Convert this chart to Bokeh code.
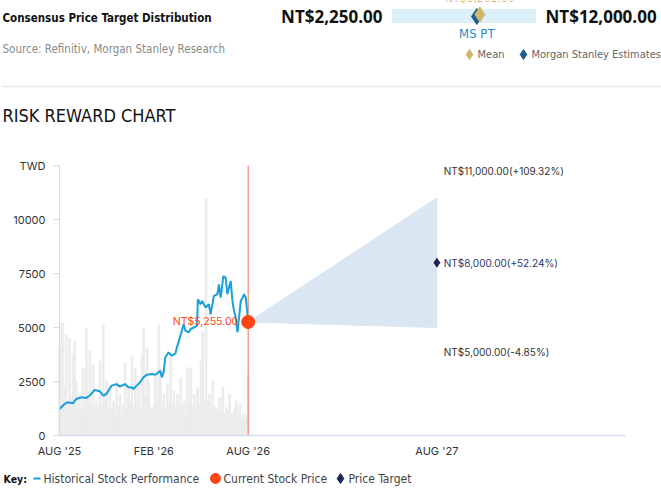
import numpy as np
from bokeh.plotting import figure
from bokeh.models import Range1d, FixedTicker, Label, LinearAxis
from bokeh.embed import file_html
from bokeh.resources import INLINE

# ---------------- data ----------------
price_months = [0.00, 0.32, 0.53, 0.85, 1.07, 1.39, 1.71, 1.92, 2.24, 2.56, 2.78, 2.99,
                3.31, 3.63, 3.84, 4.16, 4.38, 4.59, 4.70, 4.91, 5.12, 5.34, 5.55, 5.87,
                6.09, 6.30, 6.41, 6.51, 6.62, 6.73, 6.94, 7.15, 7.37, 7.47, 7.69, 7.90,
                8.01, 8.22, 8.33, 8.54, 8.75, 8.80, 8.97, 9.08, 9.29, 9.50, 9.61, 9.82,
                10.04, 10.14, 10.25, 10.42, 10.57, 10.68, 10.89, 11.00, 11.10, 11.21,
                11.32, 11.42, 11.53, 11.64, 11.74, 11.85, 12.00]
price_values = [1230, 1460, 1540, 1490, 1690, 1770, 1740, 1850, 2110, 2050, 1850, 1920,
                2310, 2380, 2260, 2380, 2230, 2230, 2150, 2310, 2460, 2690, 2810, 2850,
                2810, 2920, 3000, 2690, 2920, 3620, 3850, 3690, 3800, 4080, 4620, 5150,
                4850, 4770, 4920, 5000, 5080, 6310, 6080, 6230, 5920, 6080, 5610, 6460,
                6540, 7000, 6380, 7380, 7300, 6540, 7150, 6230, 5770, 5460,
                4770, 5460, 6230, 6380, 6540, 6380, 5255]
volume_values = [4100, 5200, 5200, 2200, 4660, 1500, 4510, 1800, 3750, 4360, 2520, 1300,
                 1910, 1200, 3130, 1500, 4970, 1800, 3980, 1400, 3290, 1200, 1600, 1100,
                 3440, 1500, 5120, 2000, 2520, 1300, 2220, 1200, 1600, 1000, 2520, 1300,
                 1910, 900, 1400, 3360, 1200, 2220, 1500, 3670, 1300, 3130, 1400, 2520,
                 1200, 3750, 4970, 1800, 4050, 2520, 1300, 1150, 1400, 2830, 1500, 5120,
                 3130, 1400, 1910, 1200, 2370, 1500, 3750, 1400, 2060, 1200, 1910, 1300,
                 2680, 1400, 1600, 1100, 3130, 1500, 3130, 1300, 1910, 1200, 2220, 1500,
                 3440, 4820, 1600, 11000, 1500, 1910, 1200, 2520, 1300, 1300, 1100, 1760,
                 1200, 2220, 1000, 1300, 1100, 1910, 1000, 990, 1200, 1600, 900, 1450,
                 800, 990, 700, 990, 2830]
history_months = 12
current_price = 5255
target_month = 24
target_high = 11000
target_base = 8000
target_low = 5000
consensus_low = 2250
consensus_high = 12000
consensus_mean = 8201
ms_pt = 8000
x_axis_end = 36
x_tick_months = [0, 6, 12, 24]
x_tick_labels = ["AUG '25", "FEB '26", "AUG '26", "AUG '27"]
y_ticks = [0, 2500, 5000, 7500, 10000, 12500]
y_tick_labels = ["0", "2500", "5000", "7500", "10000", "TWD"]

# ---------------- styling ----------------
NARROW = "DejaVu Sans Condensed"
SANS = "Inter"
BLUE = "#1A9FDB"
ORANGE = "#FF4514"
NAVY = "#1E2358"
GOLD = "#D1B56B"
MSBLUE = "#1B5D8F"
W, H = 661, 488
FR_L, FR_R, FR_T, FR_B = 59, 625, 165, 435   # pixel box of the chart area

sx = (FR_R - FR_L) / x_axis_end
sy = (FR_B - FR_T) / y_ticks[-1]
p = figure(width=W, height=H,
           x_range=Range1d(-FR_L / sx, x_axis_end + (W - FR_R) / sx),
           y_range=Range1d(-(H - FR_B) / sy, y_ticks[-1] + FR_T / sy),
           x_axis_type=None, y_axis_type=None, min_border=0,
           toolbar_location=None, tools="", output_backend="svg")
p.grid.visible = False
p.outline_line_color = None

bar_left_px, bar_right_px = 392, 535
pscale = (consensus_high - consensus_low) / (bar_right_px - bar_left_px)
p.extra_x_ranges = {"px": Range1d(0, W),
                    "price": Range1d(consensus_low - bar_left_px * pscale,
                                     consensus_high + (W - bar_right_px) * pscale)}
p.extra_y_ranges = {"px": Range1d(H, 0)}


def money(v):
    return "NT$" + format(v, ",.2f")


def pct(v):
    return format((v / current_price - 1) * 100, "+.2f") + "%"


def plabel(x, y, text, size, color, font=NARROW, align="left", style="normal", xr="px"):
    p.add_layout(Label(x=x, y=y, text=text, x_range_name=xr, y_range_name="px",
                       text_align=align, text_baseline="middle", text_font=font,
                       text_font_size=size, text_font_style=style, text_color=color))


# ---------------- header ----------------
p.hbar(y=[15.5], left=[consensus_low], right=[consensus_high], height=13,
       color="#DDEFF8", x_range_name="price", y_range_name="px")
p.scatter(x=[ms_pt], y=[16], marker="diamond", size=16, color=MSBLUE,
          x_range_name="price", y_range_name="px")
p.scatter(x=[consensus_mean], y=[14], marker="diamond", size=15, color=GOLD,
          x_range_name="price", y_range_name="px")
plabel(consensus_mean, -3, money(consensus_mean), "12px", GOLD, align="center", xr="price")
plabel(ms_pt, 33, "MS PT", "13px", "#2A8AC2", align="center", xr="price")
plabel(382, 16, money(consensus_low), "17px", "#111111", font="Open Sans", align="right",
       style="bold")
plabel(545, 16, money(consensus_high), "17px", "#111111", font="Open Sans", style="bold")
plabel(2, 17, "Consensus Price Target Distribution", "11.5px", "#111111", style="bold")
plabel(2, 48, "Source: Refinitiv, Morgan Stanley Research", "11.5px", "#8A8A8A")
p.scatter(x=[469], y=[54], marker="diamond", size=10, color=GOLD,
          x_range_name="px", y_range_name="px")
plabel(477, 54, "Mean", "11px", "#666666")
p.scatter(x=[523], y=[54], marker="diamond", size=10, color=MSBLUE,
          x_range_name="px", y_range_name="px")
plabel(531, 54, "Morgan Stanley Estimates", "11px", "#666666")
p.segment(x0=[2], x1=[W], y0=[86], y1=[86], line_color="#E6E6E6", line_width=1.5,
          x_range_name="px", y_range_name="px")
plabel(2, 115, "RISK REWARD CHART", "18px", "#111111")

# ---------------- main chart ----------------
vol_x = np.linspace(0, history_months, len(volume_values))
p.vbar(x=vol_x, top=volume_values, width=history_months / (len(volume_values) - 1),
       color="#ECECEC")
p.patch([history_months, target_month, target_month], [current_price, target_high, target_low],
        color="#DAE7F3")
p.line(price_months, price_values, color=BLUE, line_width=2)
p.segment(x0=[history_months], x1=[history_months], y0=[0], y1=[y_ticks[-1]],
          line_color="#F0704F", line_width=1)
p.scatter([history_months], [current_price], size=13, color=ORANGE)
p.scatter([target_month], [target_base], marker="diamond", size=12, color=NAVY,
          line_color="white", line_width=1)

p.add_layout(Label(x=history_months, y=current_price, x_offset=-10, text=money(current_price),
                   text_align="right", text_baseline="middle", text_font=SANS,
                   text_font_size="10.5px", text_color=ORANGE))
for val, dy, col in [(target_high, 27, "#333333"), (target_base, 0, "#2E3470"),
                     (target_low, -24, "#333333")]:
    p.add_layout(Label(x=target_month, y=val, x_offset=7, y_offset=dy,
                       text=money(val) + "(" + pct(val) + ")",
                       text_baseline="middle", text_font=SANS, text_font_size="10px",
                       text_color=col))

yaxis = LinearAxis(fixed_location=0, bounds=(0, y_ticks[-1]))
yaxis.ticker = FixedTicker(ticks=y_ticks)
yaxis.major_label_overrides = dict(zip(y_ticks, y_tick_labels))
yaxis.minor_tick_line_color = None
yaxis.major_tick_in = 0
yaxis.major_tick_out = 6
yaxis.major_tick_line_color = "#D3DBEE"
yaxis.axis_line_color = "#D3DBEE"
yaxis.major_label_standoff = 8
yaxis.major_label_text_font = SANS
yaxis.major_label_text_font_size = "11px"
yaxis.major_label_text_color = "#333333"
p.add_layout(yaxis, "left")

xaxis = LinearAxis(fixed_location=0, bounds=(0, x_axis_end))
xaxis.ticker = FixedTicker(ticks=x_tick_months)
xaxis.major_label_overrides = dict(zip(x_tick_months, x_tick_labels))
xaxis.minor_tick_line_color = None
xaxis.major_tick_line_color = None
xaxis.major_tick_out = 0
xaxis.major_tick_in = 0
xaxis.axis_line_color = "#D6DDF2"
xaxis.axis_line_width = 1.5
xaxis.major_label_standoff = 8
xaxis.major_label_text_font = SANS
xaxis.major_label_text_font_size = "11px"
xaxis.major_label_text_color = "#333333"
p.add_layout(xaxis, "below")

# ---------------- key ----------------
ky = 478
plabel(3, ky, "Key:", "10.5px", "#111111", style="bold")
p.segment(x0=[33], x1=[40], y0=[ky], y1=[ky], line_color=BLUE, line_width=2,
          x_range_name="px", y_range_name="px")
plabel(43, ky, "Historical Stock Performance", "12px", "#444444")
p.scatter(x=[215], y=[ky], size=10, color=ORANGE, x_range_name="px", y_range_name="px")
plabel(223, ky, "Current Stock Price", "12px", "#444444")
p.scatter(x=[340], y=[ky], marker="diamond", size=10, color=NAVY,
          x_range_name="px", y_range_name="px")
plabel(348, ky, "Price Target", "12px", "#444444")

open("out.html", "w").write(file_html(p, INLINE))
